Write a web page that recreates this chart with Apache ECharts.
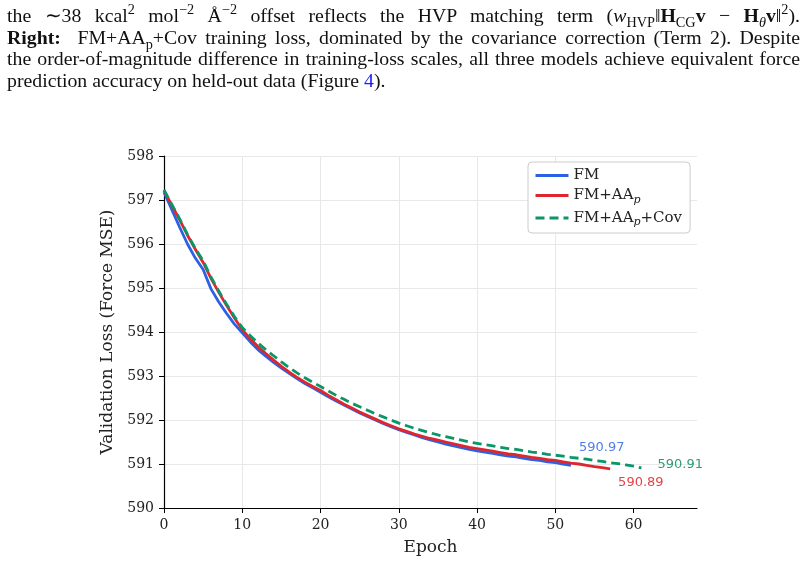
<!DOCTYPE html>
<html>
<head>
<meta charset="utf-8">
<script src="https://cdn.jsdelivr.net/npm/echarts@6/dist/echarts.min.js"></script>
<style>
  html, body { margin: 0; padding: 0; background: #fff; }
  #caption {
    position: absolute; left: 7px; top: 5px; width: 793px;
    font-family: "Liberation Serif", serif; font-size: 19.8px; color: #111;
  }
  #caption .ln { height: 21.6px; line-height: 21.6px; white-space: nowrap; text-align: justify; text-align-last: justify; }
  #caption .ln.last { text-align: left; text-align-last: left; }
  #caption sub, #caption sup { font-size: 0.72em; line-height: 0; }
  #main { position: absolute; left: 0; top: 0; width: 807px; height: 563px; }
</style>
</head>
<body>
<div id="main"></div>
<div id="caption">
  <div class="ln">the ∼38 kcal<sup>2</sup> mol<sup>−2</sup> Å<sup>−2</sup> offset reflects the HVP matching term (<i>w</i><sub>HVP</sub>‖<b>H</b><sub>CG</sub><b>v</b> − <b>H</b><sub><i>θ</i></sub><b>v</b>‖<sup>2</sup>).</div>
  <div class="ln"><b>Right:</b>&nbsp; FM+AA<sub>p</sub>+Cov training loss, dominated by the covariance correction (Term 2). Despite</div>
  <div class="ln">the order-of-magnitude difference in training-loss scales, all three models achieve equivalent force</div>
  <div class="ln last">prediction accuracy on held-out data (Figure <span style="color:#1a1aff">4</span>).</div>
</div>
<script>
// validation loss per epoch
var fmLoss = [597.18, 596.78, 596.38, 596.00, 595.68, 595.42, 594.98, 594.68, 594.42, 594.18,
  593.98, 593.78, 593.60, 593.45, 593.31, 593.18, 593.06, 592.94, 592.83, 592.73,
  592.63, 592.53, 592.43, 592.34, 592.25, 592.16, 592.08, 592.00, 591.92, 591.85,
  591.78, 591.72, 591.66, 591.60, 591.55, 591.50, 591.45, 591.41, 591.37, 591.33,
  591.30, 591.27, 591.24, 591.21, 591.18, 591.16, 591.13, 591.10, 591.08, 591.05,
  591.03, 591.00, 590.97];
var fmAapLoss = [597.22, 596.88, 596.55, 596.20, 595.88, 595.58, 595.22, 594.90, 594.60, 594.32,
  594.05, 593.85, 593.67, 593.51, 593.36, 593.22, 593.09, 592.97, 592.86, 592.76,
  592.67, 592.56, 592.46, 592.36, 592.27, 592.18, 592.10, 592.02, 591.94, 591.87,
  591.80, 591.74, 591.68, 591.63, 591.58, 591.54, 591.50, 591.46, 591.42, 591.38,
  591.35, 591.32, 591.29, 591.26, 591.23, 591.21, 591.18, 591.15, 591.13, 591.10,
  591.08, 591.05, 591.02, 591.00, 590.97, 590.94, 590.92, 590.89];
var fmAapCovLoss = [597.23, 596.90, 596.57, 596.22, 595.90, 595.62, 595.25, 594.93, 594.63, 594.35,
  594.10, 593.92, 593.75, 593.60, 593.46, 593.32, 593.19, 593.07, 592.96, 592.86,
  592.76, 592.66, 592.56, 592.47, 592.38, 592.30, 592.22, 592.14, 592.07, 592.00,
  591.93, 591.87, 591.81, 591.76, 591.71, 591.66, 591.62, 591.58, 591.54, 591.50,
  591.47, 591.44, 591.41, 591.38, 591.35, 591.33, 591.30, 591.27, 591.25, 591.22,
  591.20, 591.18, 591.15, 591.13, 591.11, 591.08, 591.06, 591.03, 591.01, 590.98,
  590.95, 590.91];
var seriesNames = ['FM', 'FM+AAp', 'FM+AAp+Cov'];
var xTicks = [0, 10, 20, 30, 40, 50, 60];

var colors = ['#2b62e3', '#e0262d', '#0a9668'];
var labelColors = ['#4f7fe8', '#e4434a', '#2e9c74'];
var labelOffsets = [[0, -18], [0, 14], [8, -3]];
var serif = '"DejaVu Serif", serif';

function toPairs(arr) {
  return arr.map(function (v, i) { return [i, v]; });
}

var chart = echarts.init(document.getElementById('main'));
var lossLists = [fmLoss, fmAapLoss, fmAapCovLoss];

var series = lossLists.map(function (arr, k) {
  return {
    name: seriesNames[k],
    type: 'line',
    data: toPairs(arr),
    symbol: 'none',
    z: 3 + k,
    lineStyle: { color: colors[k], width: 2.8, type: k === 2 ? [9, 5] : 'solid' },
    itemStyle: { color: colors[k] },
    endLabel: {
      show: true,
      formatter: function (p) { return p.value[1].toFixed(2); },
      color: labelColors[k],
      fontFamily: '"DejaVu Sans", sans-serif',
      fontSize: 13,
      offset: labelOffsets[k]
    }
  };
});

var option = {
  animation: false,
  backgroundColor: '#fff',
  grid: { left: 164, right: 110, top: 156, bottom: 55 },
  legend: {
    orient: 'vertical',
    left: 528, top: 162,
    padding: [6, 8, 5, 6],
    itemGap: 5,
    itemWidth: 33, itemHeight: 14,
    backgroundColor: '#fff',
    borderColor: '#cccccc', borderWidth: 1, borderRadius: 4,
    data: seriesNames,
    itemStyle: { opacity: 0, borderWidth: 0 },
    lineStyle: { width: 3 },
    formatter: function (name) {
      return '{n|' + name.replace(/AAp/g, 'AA}{sub|p}{n|') + '}';
    },
    textStyle: {
      fontFamily: serif, fontSize: 15, color: '#222',
      rich: {
        n: { fontFamily: serif, fontSize: 15, color: '#222' },
        sub: { fontFamily: serif, fontSize: 11, fontStyle: 'italic', color: '#222', padding: [9, 0, 0, 0] }
      }
    }
  },
  xAxis: {
    type: 'value',
    min: 0, max: 68.1, interval: 10,
    name: 'Epoch', nameLocation: 'middle', nameGap: 31,
    nameTextStyle: { fontFamily: serif, fontSize: 17, color: '#222' },
    axisLine: { show: true, onZero: false, lineStyle: { color: '#000', width: 1.2 } },
    axisTick: { show: true, length: 5, lineStyle: { color: '#000' }, customValues: xTicks },
    axisLabel: { fontFamily: serif, fontSize: 14, color: '#222', margin: 10, customValues: xTicks },
    splitLine: { show: true, showMinLine: false, showMaxLine: false, lineStyle: { color: '#e8e8e8', width: 1 } }
  },
  yAxis: {
    type: 'value',
    min: 590, max: 598, interval: 1,
    name: 'Validation Loss (Force MSE)', nameLocation: 'middle', nameGap: 43,
    nameTextStyle: { fontFamily: serif, fontSize: 17, color: '#222' },
    axisLine: { show: true, lineStyle: { color: '#000', width: 1.2 } },
    axisTick: { show: true, length: 5, lineStyle: { color: '#000' } },
    axisLabel: { fontFamily: serif, fontSize: 14, color: '#222', margin: 10 },
    splitLine: { show: true, showMinLine: false, lineStyle: { color: '#e8e8e8', width: 1 } }
  },
  series: series
};

chart.setOption(option);
</script>
</body>
</html>
